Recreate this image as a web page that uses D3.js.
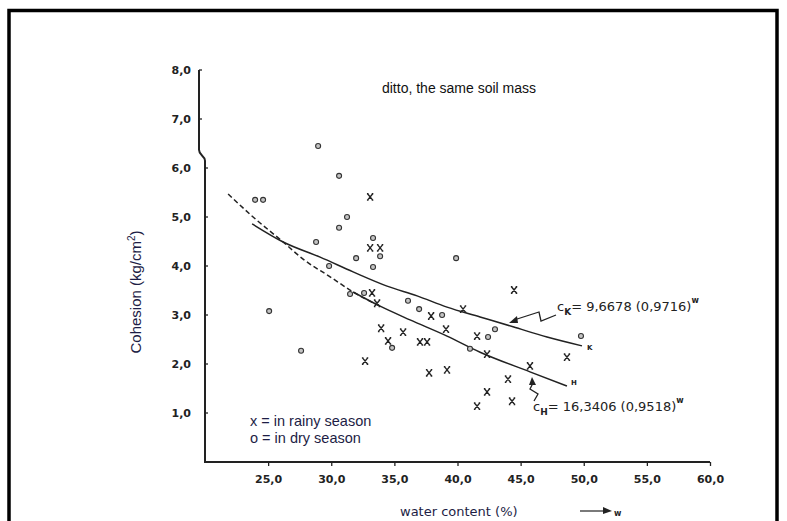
<!DOCTYPE html>
<html>
<head>
<meta charset="utf-8">
<script src="https://cdn.jsdelivr.net/npm/d3@7"></script>
<style>
  html, body { margin: 0; padding: 0; background: #fff; }
  #viz { width: 787px; height: 521px; overflow: hidden; }
</style>
</head>
<body>
<div id="viz"></div>
<script>
/*
 * Datos
 */
var xTicks = [25, 30, 35, 40, 45, 50, 55, 60];
var yTicks = [1, 2, 3, 4, 5, 6, 7, 8];

// o = dry season (water content %, cohesion kg/cm2)
var dryW = [28.96, 30.62, 23.97, 24.60, 31.25, 30.62, 28.80, 33.31, 33.87, 31.97, 33.31, 29.83, 31.49,
            32.60, 25.08, 27.61, 34.82, 39.89, 36.08, 36.96, 38.78, 42.97, 42.42, 40.99, 49.78];
var dryC = [6.45, 5.84, 5.35, 5.35, 5.00, 4.78, 4.49, 4.57, 4.20, 4.16, 3.98, 4.00, 3.43,
            3.45, 3.08, 2.27, 2.33, 4.16, 3.29, 3.12, 3.00, 2.71, 2.55, 2.31, 2.57];

// x = rainy season
var rainyW = [33.08, 33.08, 33.87, 33.23, 33.63, 32.68, 33.95, 34.50, 44.48, 40.44, 37.91, 39.09, 35.69,
              37.03, 37.59, 41.55, 42.34, 37.75, 39.17, 45.74, 44.00, 48.67, 42.34, 41.55, 44.32];
var rainyC = [5.41, 4.37, 4.37, 3.45, 3.24, 2.06, 2.73, 2.47, 3.51, 3.12, 2.98, 2.71, 2.65,
              2.45, 2.45, 2.57, 2.20, 1.82, 1.88, 1.96, 1.69, 2.14, 1.43, 1.14, 1.24];

// curva K (dry)
var curveKW = [23.73, 26.19, 29.12, 31.73, 34.42, 36.80, 39.17, 41.79, 44.40, 47.09, 49.86];
var curveKC = [4.86, 4.49, 4.18, 3.88, 3.59, 3.39, 3.16, 2.96, 2.76, 2.55, 2.37];

// curva H (rainy), la parte izquierda es punteada
var curveHW = [21.83, 23.81, 26.19, 27.77, 29.91, 31.73, 33.87, 36.24, 39.17, 41.79, 45.74, 48.67];
var curveHC = [5.47, 5.00, 4.49, 4.14, 3.78, 3.47, 3.18, 2.90, 2.57, 2.24, 1.84, 1.55];

/*
 * SVG y escalas
 */
var width = 787, height = 521;
var ink = '#222';
var tickFont = '"DejaVu Sans", sans-serif';

var svg = d3.select('#viz')
  .append('svg')
  .attr('width', width)
  .attr('height', height)
  .style('background', '#fff');

var x = d3.scaleLinear().domain([20, 60]).range([205, 710]);
var y = d3.scaleLinear().domain([0, 8]).range([462, 70]);

// marco exterior
svg.append('rect')
  .attr('x', 9)
  .attr('y', 10.5)
  .attr('width', 768)
  .attr('height', 540)
  .attr('fill', 'none')
  .attr('stroke', '#000')
  .attr('stroke-width', 3.5);

/*
 * Ejes
 */
var gx = svg.append('g')
  .attr('transform', 'translate(0,' + y(0) + ')')
  .call(d3.axisBottom(x)
    .tickValues(xTicks)
    .tickSize(4)
    .tickPadding(9)
    .tickFormat(function(d){ return d.toFixed(1).replace('.', ','); }));
gx.select('.domain').remove();
gx.selectAll('line').attr('stroke', ink).attr('stroke-width', 1.3);
gx.selectAll('text')
  .attr('fill', ink)
  .style('font-family', tickFont)
  .style('font-weight', 'bold')
  .style('font-size', '11px');

// linea del eje x
svg.append('line')
  .attr('x1', x(20) - 1)
  .attr('x2', x(60))
  .attr('y1', y(0))
  .attr('y2', y(0))
  .attr('stroke', ink)
  .attr('stroke-width', 2);

// eje y con el quiebre arriba de 6,0
var yBreak = y(6.15);
svg.append('path')
  .attr('d', 'M' + x(20) + ',' + (y(0) + 1) + ' V' + yBreak +
             ' C' + x(20) + ',' + (yBreak - 5) + ' ' + (x(20) - 6) + ',' + (yBreak - 5) + ' ' + (x(20) - 6) + ',' + (yBreak - 11) +
             ' V' + y(8))
  .attr('fill', 'none')
  .attr('stroke', ink)
  .attr('stroke-width', 2);

var gy = svg.append('g');
yTicks.forEach(function(t){
  var ax = t > 6.1 ? x(20) - 6 : x(20);
  gy.append('line')
    .attr('x1', ax)
    .attr('x2', ax + 3)
    .attr('y1', y(t))
    .attr('y2', y(t))
    .attr('stroke', ink)
    .attr('stroke-width', 1.3);
  gy.append('text')
    .attr('x', 191)
    .attr('y', y(t))
    .attr('dy', '0.35em')
    .attr('text-anchor', 'end')
    .attr('fill', ink)
    .style('font-family', tickFont)
    .style('font-weight', 'bold')
    .style('font-size', '11px')
    .text(t.toFixed(1).replace('.', ','));
});

/*
 * Textos
 */
svg.append('text')
  .attr('x', 459)
  .attr('y', 93)
  .attr('text-anchor', 'middle')
  .attr('fill', '#111')
  .style('font-family', '"Liberation Sans", Arial, sans-serif')
  .style('font-size', '14px')
  .text('ditto, the same soil mass');

var yLab = svg.append('text')
  .attr('transform', 'translate(141,292) rotate(-90)')
  .attr('text-anchor', 'middle')
  .attr('fill', '#1d1d45')
  .style('font-family', '"Liberation Sans", Arial, sans-serif')
  .style('font-size', '15px');
yLab.append('tspan').text('Cohesion (kg/cm');
yLab.append('tspan').attr('dy', -6).style('font-size', '10px').text('2');
yLab.append('tspan').attr('dy', 6).text(')');

svg.append('text')
  .attr('x', 250)
  .attr('y', 426)
  .attr('fill', '#1d1d45')
  .style('font-family', '"Liberation Sans", Arial, sans-serif')
  .style('font-size', '14.5px')
  .text('x = in rainy season');
svg.append('text')
  .attr('x', 250)
  .attr('y', 443)
  .attr('fill', '#1d1d45')
  .style('font-family', '"Liberation Sans", Arial, sans-serif')
  .style('font-size', '14.5px')
  .text('o = in dry season');

// titulo eje x
svg.append('text')
  .attr('x', 400)
  .attr('y', 516)
  .attr('fill', '#1d1d45')
  .style('font-family', tickFont)
  .style('font-size', '13px')
  .text('water content (%)');
svg.append('line')
  .attr('x1', 580).attr('x2', 605)
  .attr('y1', 511).attr('y2', 511)
  .attr('stroke', ink).attr('stroke-width', 1.2);
svg.append('path')
  .attr('d', 'M603,507 L612,511 L603,514 Z')
  .attr('fill', ink);
svg.append('text')
  .attr('x', 614)
  .attr('y', 516)
  .attr('fill', ink)
  .style('font-family', tickFont)
  .style('font-weight', 'bold')
  .style('font-size', '8px')
  .text('w');

/*
 * Curvas
 */
var linea = d3.line()
  .x(function(d){ return x(d[0]); })
  .y(function(d){ return y(d[1]); })
  .curve(d3.curveMonotoneX);

var kPts = curveKW.map(function(w, i){ return [w, curveKC[i]]; });
var hPts = curveHW.map(function(w, i){ return [w, curveHC[i]]; });

svg.append('path')
  .attr('d', linea(kPts))
  .attr('fill', 'none')
  .attr('stroke', ink)
  .attr('stroke-width', 1.5);

// la parte punteada y la solida de H
var hDash = hPts.filter(function(d){ return d[0] <= 33.87; });
var hSolid = hPts.filter(function(d){ return d[0] >= 31.73; });
svg.append('path')
  .attr('d', linea(hDash))
  .attr('fill', 'none')
  .attr('stroke', ink)
  .attr('stroke-width', 1.5)
  .attr('stroke-dasharray', '5,3');
svg.append('path')
  .attr('d', linea(hSolid))
  .attr('fill', 'none')
  .attr('stroke', ink)
  .attr('stroke-width', 1.5);

/*
 * Puntos
 */
var gPts = svg.append('g');
dryW.forEach(function(w, i){
  gPts.append('circle')
    .attr('cx', x(w))
    .attr('cy', y(dryC[i]))
    .attr('r', 2.5)
    .attr('fill', '#c4c4c4')
    .attr('stroke', '#333')
    .attr('stroke-width', 1.1);
});
rainyW.forEach(function(w, i){
  gPts.append('path')
    .attr('transform', 'translate(' + x(w) + ',' + y(rainyC[i]) + ')')
    .attr('d', 'M-2.6,-3.2 L2.6,3.2 M2.6,-3.2 L-2.6,3.2 M-3.2,-3.2 H-1.6 M1.6,-3.2 H3.2 M-3.2,3.2 H-1.6 M1.6,3.2 H3.2')
    .attr('fill', 'none')
    .attr('stroke', ink)
    .attr('stroke-width', 1.4);
});

/*
 * Etiquetas de las curvas con sus flechas
 */
function ecuacion(px, py, sub, txt){
  var t = svg.append('text')
    .attr('x', px)
    .attr('y', py)
    .attr('fill', ink)
    .style('font-family', tickFont)
    .style('font-size', '13px');
  t.append('tspan').text('c');
  t.append('tspan').attr('dy', 4).style('font-size', '9px').style('font-weight', 'bold').text(sub);
  t.append('tspan').attr('dy', -4).text('= ' + txt);
  t.append('tspan').attr('dy', -8).style('font-size', '8px').style('font-weight', 'bold').text('w');
}
ecuacion(557, 311, 'K', '9,6678 (0,9716)');
ecuacion(533, 411, 'H', '16,3406 (0,9518)');

// flecha tipo rayo hacia la curva K
svg.append('path')
  .attr('d', 'M556,315 L541,321 L539,312 L514,320')
  .attr('fill', 'none')
  .attr('stroke', ink)
  .attr('stroke-width', 1.3);
svg.append('path')
  .attr('d', 'M509,323 L517,316 L518,323 Z')
  .attr('fill', ink);

// flecha hacia la curva H
svg.append('path')
  .attr('d', 'M534,401 L538,394 L530,389 L533,383')
  .attr('fill', 'none')
  .attr('stroke', ink)
  .attr('stroke-width', 1.3);
svg.append('path')
  .attr('d', 'M532,377 L529,385 L536,385 Z')
  .attr('fill', ink);

// letras chicas al final de cada curva
svg.append('text')
  .attr('x', x(49.86) + 5).attr('y', y(2.37) + 4)
  .attr('fill', ink)
  .style('font-family', tickFont).style('font-weight', 'bold').style('font-size', '7px')
  .text('K');
svg.append('text')
  .attr('x', x(48.67) + 4).attr('y', y(1.55) - 1)
  .attr('fill', ink)
  .style('font-family', tickFont).style('font-weight', 'bold').style('font-size', '7px')
  .text('H');
</script>
</body>
</html>
